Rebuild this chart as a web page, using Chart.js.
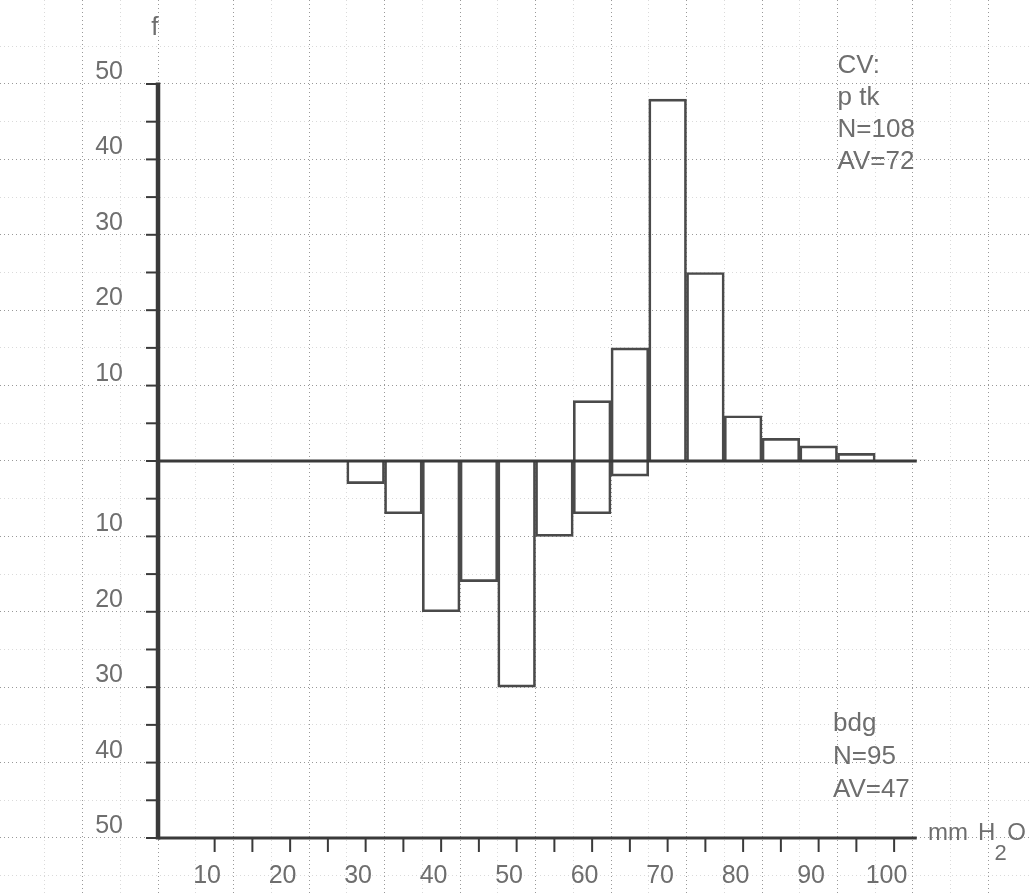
<!DOCTYPE html>
<html>
<head>
<meta charset="utf-8">
<title>CV histogram</title>
<script src="https://cdn.jsdelivr.net/npm/chart.js@4.4.1/dist/chart.umd.min.js"></script>
<style>
    html, body { margin: 0; padding: 0; background: #fff; }
    #wrap { width: 1031px; height: 894px; position: relative; }
</style>
</head>
<body>
<div id="wrap"><canvas id="cvChart"></canvas></div>
<script>
// bins of 5 mm H2O, given by their centre
const binCenters = [27.5, 32.5, 37.5, 42.5, 47.5, 52.5, 57.5, 62.5, 67.5, 72.5, 77.5, 82.5, 87.5, 92.5];
// p tk counts, drawn upward
const ptkCounts = [0, 0, 0, 0, 0, 0, 8, 15, 48, 25, 6, 3, 2, 1];
// bdg counts, drawn downward
const bdgCounts = [3, 7, 20, 16, 30, 10, 7, 2, 0, 0, 0, 0, 0, 0];

const xTickValues = [10, 20, 30, 40, 50, 60, 70, 80, 90, 100];
const xTickLabels = ['10', '20', '30', '40', '50', '60', '70', '80', '90', '100'];
const xMarkValues = [7.5, 12.5, 17.5, 22.5, 27.5, 32.5, 37.5, 42.5, 47.5, 52.5,
                     57.5, 62.5, 67.5, 72.5, 77.5, 82.5, 87.5, 92.5, 97.5];
const yTickValues = [50, 40, 30, 20, 10, -10, -20, -30, -40, -50];
const yTickLabels = ['50', '40', '30', '20', '10', '10', '20', '30', '40', '50'];

const ptkNote = ['CV:', 'p tk', 'N=108', 'AV=72'];
const bdgNote = ['bdg', 'N=95', 'AV=47'];

document.addEventListener('DOMContentLoaded', function() {

    // graph paper: darker every 10, faint every 5
    function paperColor(ctx) {
        if (!ctx.tick) return 'rgba(0, 0, 0, 0)';
        const v = ctx.tick.value;
        if (Math.abs(v % 10) < 1e-6) return 'rgba(70, 70, 70, 0.55)';
        if (Math.abs(v % 5) < 1e-6) return 'rgba(70, 70, 70, 0.2)';
        return 'rgba(0, 0, 0, 0)';
    }

    // axes, tick marks and the lettering, drawn on top of the bars
    const paperAxes = {
        id: 'paperAxes',
        afterDatasetsDraw(chart) {
            const c = chart.ctx;
            const px = v => chart.scales.x.getPixelForValue(v);
            const py = v => chart.scales.y.getPixelForValue(v);
            const line = (x1, y1, x2, y2) => {
                c.beginPath(); c.moveTo(x1, y1); c.lineTo(x2, y2); c.stroke();
            };

            c.save();
            c.strokeStyle = '#3a3a3a';
            c.lineWidth = 4.5;
            line(px(0), py(50.2), px(0), py(-50.2));
            c.lineWidth = 3;
            line(px(0), py(0), px(100.5), py(0));
            line(px(0), py(-50), px(100.5), py(-50));

            c.lineWidth = 2;
            for (let v = -50; v <= 50; v += 5) {
                line(px(0) - 12, py(v), px(0), py(v));
            }
            xMarkValues.forEach(v => line(px(v), py(-50), px(v), py(-50) + 14));

            c.fillStyle = '#6e6e6e';
            c.font = '25px "Liberation Sans", sans-serif';
            c.textBaseline = 'alphabetic';

            c.textAlign = 'right';
            yTickValues.forEach((v, i) => c.fillText(yTickLabels[i], px(0) - 35, py(v) - 5));

            c.textAlign = 'center';
            xTickValues.forEach((v, i) => c.fillText(xTickLabels[i], px(v - 3.5), py(-50) + 45));

            c.textAlign = 'left';
            c.font = '26px "Liberation Sans", sans-serif';
            ptkNote.forEach((t, i) => c.fillText(t, px(90), py(51.5 - 4.25 * i)));
            bdgNote.forEach((t, i) => c.fillText(t, px(89.4), py(-35.8 - 4.4 * i)));

            c.fillText('f', px(-0.9), py(56.5));

            // unit label
            c.font = '24px "Liberation Sans", sans-serif';
            c.fillText('mm', px(102), py(-50.3));
            c.fillText('H', px(108.6), py(-50.3));
            c.fillText('O', px(112.5), py(-50.3));
            c.font = '22px "Liberation Sans", sans-serif';
            c.fillText('2', px(110.8), py(-50.3) + 20);
            c.restore();
        }
    };

    const ctx = document.getElementById('cvChart').getContext('2d');
    new Chart(ctx, {
        type: 'bar',
        data: {
            datasets: [{
                label: 'p tk',
                data: binCenters.map((c, i) => ({ x: c, y: ptkCounts[i] })),
                borderColor: '#4a4a4a',
                borderWidth: 2,
                backgroundColor: 'rgba(0, 0, 0, 0)'
            }, {
                label: 'bdg',
                data: binCenters.map((c, i) => ({ x: c, y: -bdgCounts[i] })),
                borderColor: '#4a4a4a',
                borderWidth: 2,
                backgroundColor: 'rgba(0, 0, 0, 0)'
            }]
        },
        options: {
            responsive: true,
            maintainAspectRatio: false,
            animation: false,
            grouped: false,
            barPercentage: 1,
            categoryPercentage: 1,
            layout: { padding: 0 },
            plugins: {
                legend: { display: false },
                tooltip: { enabled: false },
                title: { display: false }
            },
            scales: {
                x: {
                    type: 'linear',
                    min: -20.93,
                    max: 115.63,
                    offset: false,
                    ticks: { display: false, stepSize: 5 },
                    grid: { drawTicks: false, offset: false, color: paperColor, lineWidth: 1 },
                    border: { display: false, dash: [1, 3] }
                },
                y: {
                    type: 'linear',
                    min: -57.43,
                    max: 61.14,
                    ticks: { display: false, stepSize: 5 },
                    grid: { drawTicks: false, color: paperColor, lineWidth: 1 },
                    border: { display: false, dash: [1, 3] }
                }
            }
        },
        plugins: [paperAxes]
    });
});
</script>
</body>
</html>
